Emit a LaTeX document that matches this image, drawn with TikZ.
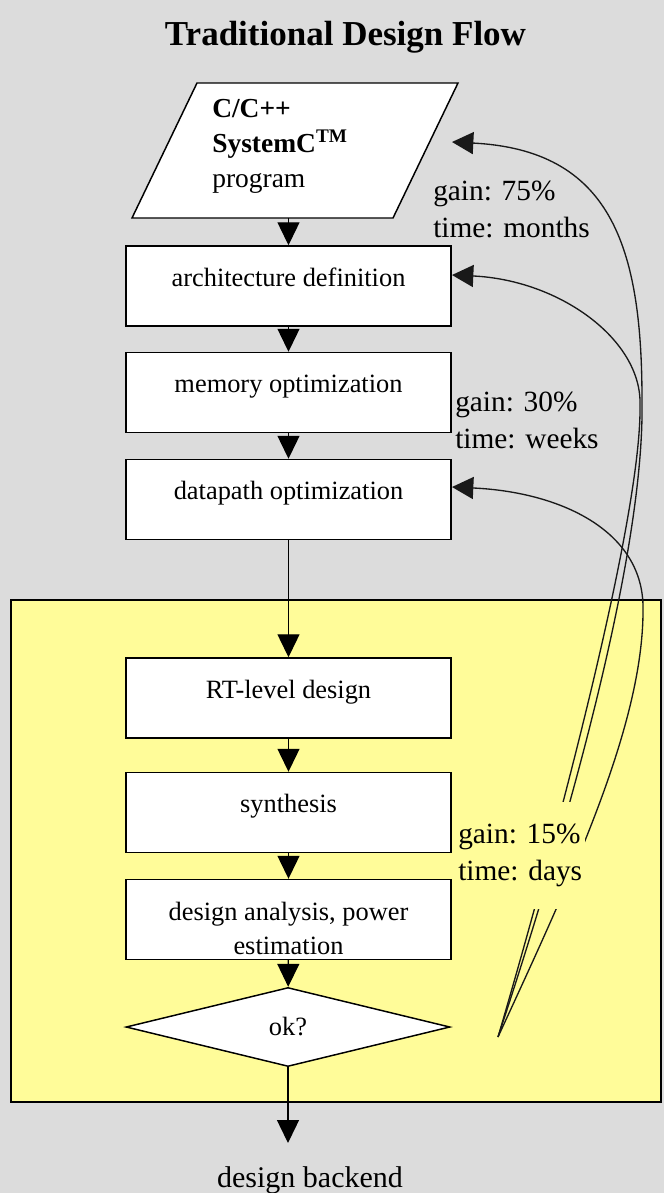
\documentclass[tikz,border=0pt]{standalone}
\usepackage{fontspec}
\setmainfont{Liberation Serif}
\usetikzlibrary{arrows.meta,shapes.geometric,calc}
\definecolor{canvasgray}{RGB}{220,220,220}
\definecolor{clusteryellow}{RGB}{255,252,153}
\begin{document}
\begin{tikzpicture}[x=0.75pt,y=-0.75pt,
  flow/.style={line width=1pt,-{Triangle[length=17.25pt,width=16.5pt]}},
  back/.style={line width=1pt,black!90,-{Triangle[length=16pt,width=16.5pt]}},
  boxtext/.style={font=\fontsize{19.8}{25.5}\selectfont},
  stepbox/.style={draw,line width=1.1pt,fill=white,minimum width=243.75pt,minimum height=60pt,
    inner sep=0pt,boxtext,text height=0.75em,text depth=0.75em,align=center},
  decision/.style={diamond,draw,line width=1.1pt,fill=white,minimum width=243pt,minimum height=59.25pt,
    inner sep=0pt,boxtext},
  gainlabel/.style={align=left,inner sep=0pt,font=\fontsize{22}{27.75}\selectfont}]

% canvas
\useasboundingbox (0,0) rectangle (664,1193);
\fill[canvasgray] (0,0) rectangle (664,1193);

% highlighted lower stage
\draw[line width=1.1pt,fill=clusteryellow] (11,600) rectangle (661,1102);

% title
\node[anchor=base,font=\bfseries\fontsize{26.25}{30}\selectfont] (title) at (345.5,45) {Traditional Design Flow};

% input program (parallelogram)
\coordinate (pTL) at (197,83);
\coordinate (pTR) at (458,83);
\coordinate (pBR) at (393,218);
\coordinate (pBL) at (132,218);
\draw[line width=1.1pt,fill=white] (pTL) -- (pTR) -- (pBR) -- (pBL) -- cycle;
\node[anchor=north west,align=left,inner sep=0pt,font=\fontsize{20.6}{26.25}\selectfont] (prog) at (212,99)
  {\textbf{C/C++}\\\textbf{SystemC\textsuperscript{TM}}\\program};
\coordinate (progout) at (288.5,218);

% flow steps
\node[stepbox] (arch) at (288.5,286)   {architecture definition};
\node[stepbox] (mem)  at (288.5,392.5) {memory optimization};
\node[stepbox] (dp)   at (288.5,499.5) {datapath optimization};
\node[stepbox] (rt)   at (288.5,698)   {RT-level design};
\node[stepbox] (syn)  at (288.5,812.5) {synthesis};
\node[stepbox] (ana)  at (288.5,919.5) {};
\node[boxtext,anchor=north,align=center,inner sep=0pt] (anatext) at (288.5,902)
  {design analysis, power\\estimation};
\node[decision] (ok)  at (288,1027) {ok?};

\node[anchor=base,font=\fontsize{22.5}{27}\selectfont] (backend) at (310,1187) {design backend};
\coordinate (outtip) at (288,1143);

% forward arrows
\draw[flow] (progout) -- (arch.north);
\draw[flow] (arch) -- (mem);
\draw[flow] (mem) -- (dp);
\draw[flow] (dp) -- (rt);
\draw[flow] (rt) -- (syn);
\draw[flow] (syn) -- (ana);
\draw[flow] (ana) -- (ok);
\draw[flow] (ok) -- (outtip);

% feedback loops
\coordinate (fbsrc)  at (498,1037);
\coordinate (progin) at (452,142);
\coordinate (archin) at (452,275);
\coordinate (dpin)   at (452,487);
\draw[back] (fbsrc) .. controls (560,850) and (645,560) .. (642,400)
                    .. controls (642,245) and (610,150) .. (progin);
\draw[back] (fbsrc) .. controls (550,860) and (642,520) .. (640,405)
                    .. controls (642,340) and (560,280) .. (archin);
\draw[back] (fbsrc) .. controls (575,870) and (645,720) .. (643,605)
                    .. controls (641,530) and (560,492) .. (dpin);

% loop labels
\node[gainlabel,anchor=west] (g75) at (433,209.5) {gain: 75\%\\time: months};
\node[gainlabel,anchor=west] (g30) at (455,420.5) {gain: 30\%\\time: weeks};
\node[gainlabel,anchor=west,fill=clusteryellow,inner xsep=2.25pt,inner ysep=16.5pt] (g15) at (455,855.75) {gain: 15\%\\time: days};

\end{tikzpicture}
\end{document}
